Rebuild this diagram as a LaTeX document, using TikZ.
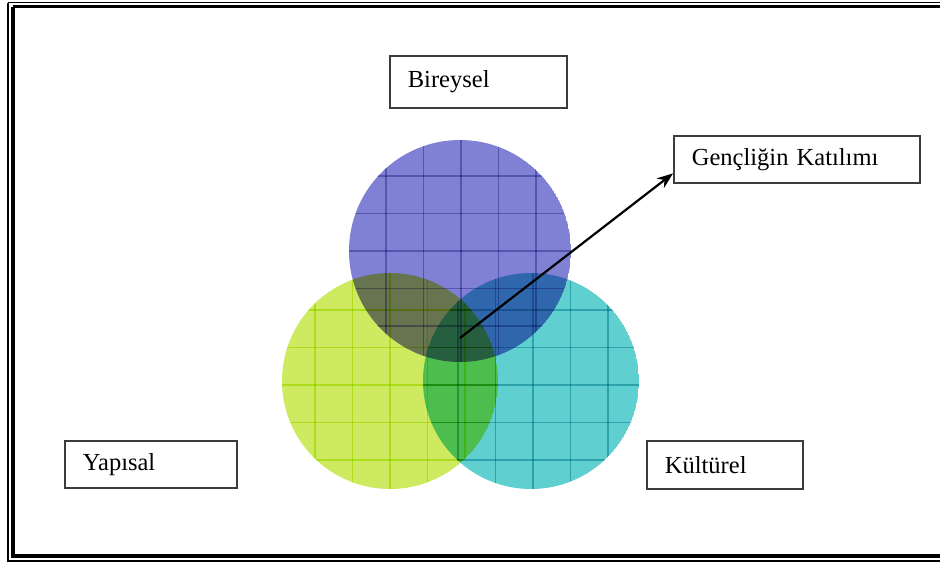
\documentclass[tikz,border=0pt]{standalone}
\usepackage{fontspec}
\setmainfont{Liberation Serif}
\usetikzlibrary{positioning,arrows.meta}

\definecolor{bireyselblue}{RGB}{128,128,212}
\definecolor{bireyselgrid}{RGB}{170,170,212}
\definecolor{yapisalgreen}{RGB}{205,234,96}
\definecolor{yapisalgrid}{RGB}{215,240,70}
\definecolor{kulturelteal}{RGB}{96,207,207}
\definecolor{kulturelgrid}{RGB}{120,200,210}
\definecolor{boxgray}{RGB}{60,60,60}

\tikzset{
  labelbox/.style={draw=boxgray, line width=1.8pt, rectangle, anchor=north west,
    minimum width=#1, text width=#1-36pt, inner xsep=18pt, align=left,
    font=\fontsize{24.5}{29}\selectfont},
  setgrid/.style={line width=1.5pt}
}

\begin{document}
\begin{tikzpicture}[x=1pt, y=-1pt]
    \useasboundingbox (0,0) rectangle (940,563);
    \clip (0,0) rectangle (940,563);

    % Frame
    \draw[line width=1.6pt] (8,2.5) -- (960,2.5) (8,2.5) -- (8,561) -- (960,561);
    \draw[line width=3.6pt] (13,6.5) -- (960,6.5) (13,6.5) -- (13,556) -- (960,556);

    % Circles
    \begin{scope}[blend mode=multiply]
    \begin{scope}
      \clip (460,251) circle[radius=111pt];
      \fill[bireyselblue] (460,251) circle[radius=111pt];
      \foreach \k in {-3,...,3} {
        \draw[setgrid, bireyselgrid] (461+37.5*\k,130) -- (461+37.5*\k,370);
        \draw[setgrid, bireyselgrid] (340,251+37.5*\k) -- (580,251+37.5*\k);
      }
    \end{scope}
    \begin{scope}
      \clip (390,381) circle[radius=108pt];
      \fill[yapisalgreen] (390,381) circle[radius=108pt];
      \foreach \k in {-3,...,3} {
        \draw[setgrid, yapisalgrid] (390+37.5*\k,265) -- (390+37.5*\k,500);
        \draw[setgrid, yapisalgrid] (275,385+37.5*\k) -- (505,385+37.5*\k);
      }
    \end{scope}
    \begin{scope}
      \clip (531,381) circle[radius=108pt];
      \fill[kulturelteal] (531,381) circle[radius=108pt];
      \foreach \k in {-3,...,3} {
        \draw[setgrid, kulturelgrid] (533+37.5*\k,265) -- (533+37.5*\k,500);
        \draw[setgrid, kulturelgrid] (415,385+37.5*\k) -- (645,385+37.5*\k);
      }
    \end{scope}
    \end{scope}

    % Labels
    \node[labelbox=177pt, minimum height=52pt] (bireysel) at (389,55) {Bireysel};
    \node[labelbox=246pt, minimum height=47pt] (genclik) at (673,135) {Gençliğin Katılımı};
    \node[labelbox=172pt, minimum height=47pt] (yapisal) at (64,440) {Yapısal};
    \node[labelbox=156pt, minimum height=48pt] (kulturel) at (646,440) {Kültürel};

    % Arrows
    \coordinate (katilim) at (460,338);
    \draw[line width=2.2pt, -{Stealth[length=16pt, width=12pt]}] (katilim) -- ([yshift=-14pt]genclik.west);
\end{tikzpicture}
\end{document}
